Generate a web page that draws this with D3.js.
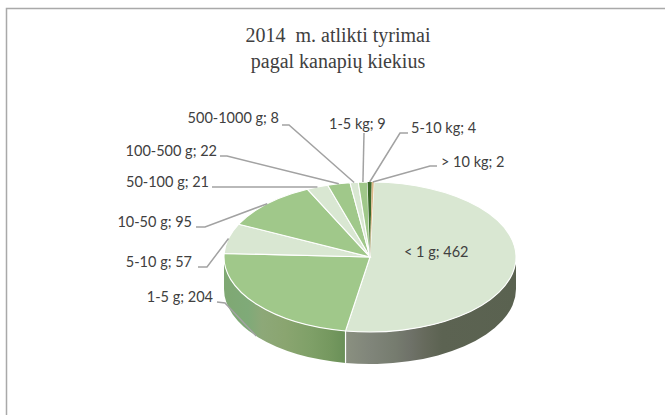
<!DOCTYPE html>
<html><head><meta charset="utf-8">
<script src="https://cdn.jsdelivr.net/npm/d3@7"></script>
<style>html,body{margin:0;background:#fff}svg{display:block}</style>
</head><body><div id="c"></div>
<script>
const categories = ["< 1 g","1-5 g","5-10 g","10-50 g","50-100 g","100-500 g","500-1000 g","1-5 kg","5-10 kg","> 10 kg"];
const values = [462,204,57,95,21,22,8,9,4,2];
const sliceColors = ["#d9e7d2","#a0c88a","#d9e7d2","#a0c88a","#d9e7d2","#a0c88a","#d9e7d2","#a0c88a","#3c6a2b","#dcb888"];
const titleLines = ["2014  m. atlikti tyrimai","pagal kanapių kiekius"];

// layout only: label anchor and leader elbow per category
const labelX = [404,213,192,192,209,217,279,329,411,441];
const labelY = [257,302,267,227,187,156,123,129,133,167];
const labelAnchor = ["start","end","end","end","end","end","end","start","start","start"];
const elbowX = [null,225,207,205,null,227,289,null,400,430];
const elbowY = [null,303,267,227,null,156,125,null,133,166];
const tailX  = [null,217,198,196,212,220,282,364,408,437];
const tailY  = [null,302,267,227,187,156,125,133,133,166];

const W=665,H=415,cx=370,cy=257,rx=146,ry=75,depth=32;
const svg=d3.select("#c").append("svg").attr("width",W).attr("height",H);
const deg=Math.PI/180, rot=1.5*deg;

svg.append("path").attr("d",`M6.5,${H}V8.5H${W}`).attr("fill","none").attr("stroke","#a9a9a9").attr("stroke-width",1.5);

svg.append("text").attr("font-family","'Liberation Serif'").attr("font-size",20).attr("fill","#404040")
  .attr("text-anchor","middle").selectAll("tspan").data(titleLines).join("tspan")
  .attr("x",338).attr("y",(d,i)=>42+i*26).style("white-space","pre").text(d=>d);

const arcs=d3.pie().sort(null).startAngle(rot).endAngle(2*Math.PI+rot)(values);
const px=a=>cx+rx*Math.sin(a), py=a=>cy-ry*Math.cos(a);

// wall gradients
const defs=svg.append("defs");
const wallStops=[
 [[346,"#8a9080"],[370,"#80857a"],[395,"#767c6f"],[410,"#6f7269"],[425,"#666a5c"],[442,"#5c6352"],[517,"#5a6250"]],
 [[225,"#7fa873"],[248,"#7faa78"],[262,"#8da878"],[285,"#8aa570"],[310,"#7fa068"],[330,"#75985f"],[345,"#6a9058"]]
];
wallStops.forEach((s,i)=>{
  const g=defs.append("linearGradient").attr("id","wall"+i).attr("gradientUnits","userSpaceOnUse")
    .attr("x1",s[0][0]).attr("x2",s[s.length-1][0]).attr("y1",0).attr("y2",0);
  s.forEach(t=>g.append("stop").attr("offset",(t[0]-s[0][0])/(s[s.length-1][0]-s[0][0])).attr("stop-color",t[1]));
});

// side wall: the visible front part of the two big slices
const walls=arcs.slice(0,2).map((d,i)=>({i,a0:Math.max(d.startAngle,Math.PI/2),a1:Math.min(d.endAngle,1.5*Math.PI)}));
svg.append("g").selectAll("path").data(walls).join("path")
  .attr("d",d=>`M${px(d.a0)},${py(d.a0)}A${rx},${ry} 0 0 1 ${px(d.a1)},${py(d.a1)}`+
    `L${px(d.a1)},${py(d.a1)+depth}A${rx},${ry} 0 0 0 ${px(d.a0)},${py(d.a0)+depth}Z`)
  .attr("fill",d=>`url(#wall${d.i})`);
// divider on the wall
const split=arcs[0].endAngle;
svg.append("line").attr("x1",px(split)).attr("x2",px(split)).attr("y1",py(split)).attr("y2",py(split)+depth)
  .attr("stroke","#fff").attr("stroke-width",1.2);

// top face
const arcGen=d3.arc().innerRadius(0).outerRadius(rx);
svg.append("g").attr("transform",`translate(${cx},${cy}) scale(1,${ry/rx})`)
  .selectAll("path").data(arcs).join("path").attr("d",arcGen)
  .attr("fill",(d,i)=>sliceColors[i]).attr("stroke",(d,i)=>i>=8?"none":"#fff").attr("stroke-width",1.1)
  .attr("vector-effect","non-scaling-stroke");

// leaders
const leaderLine=d3.line();
const leaders=arcs.map((d,i)=>{
  if(tailX[i]==null) return null;
  const m=(d.startAngle+d.endAngle)/2, onWall=m>Math.PI/2&&m<1.5*Math.PI;
  const pts=[[tailX[i],tailY[i]]];
  if(elbowX[i]!=null) pts.push([elbowX[i],elbowY[i]]);
  pts.push([px(m),py(m)+(onWall?depth:0)]);
  return pts;
}).filter(Boolean);
svg.append("g").selectAll("path").data(leaders).join("path").attr("d",leaderLine)
  .attr("fill","none").attr("stroke","#a2a2a2").attr("stroke-width",1.5);

// labels
svg.append("g").attr("font-family","Lato").attr("font-size",14.5).attr("fill","#404040")
  .selectAll("text").data(categories).join("text")
  .attr("x",(d,i)=>labelX[i]).attr("y",(d,i)=>labelY[i]).attr("text-anchor",(d,i)=>labelAnchor[i])
  .text((d,i)=>`${d}; ${values[i]}`);
</script></body></html>
